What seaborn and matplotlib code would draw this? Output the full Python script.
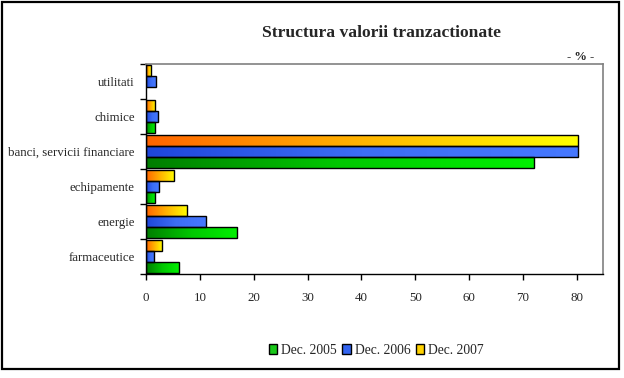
import numpy as np
import pandas as pd
import matplotlib
matplotlib.use("Agg")
import matplotlib.pyplot as plt
from matplotlib.patches import Rectangle
from matplotlib.colors import LinearSegmentedColormap
import seaborn as sns

categories = ["utilitati", "chimice", "banci, servicii financiare",
              "echipamente", "energie", "farmaceutice"]
series = ["Dec. 2005", "Dec. 2006", "Dec. 2007"]
dec2005 = [0.0, 1.7, 72.0, 1.6, 16.9, 6.1]
dec2006 = [1.8, 2.3, 80.2, 2.5, 11.1, 1.4]
dec2007 = [0.9, 1.7, 80.2, 5.2, 7.7, 3.0]
x_ticks = [0, 10, 20, 30, 40, 50, 60, 70, 80]

df = pd.DataFrame({
    "categorie": categories * 3,
    "serie": [series[0]] * 6 + [series[1]] * 6 + [series[2]] * 6,
    "valoare": dec2005 + dec2006 + dec2007,
})

sns.set_style("white")
plt.rcParams["font.family"] = ["Liberation Serif", "DejaVu Serif"]

fig = plt.figure(figsize=(6.24, 3.78), dpi=100)
ax = fig.add_axes([0.234, 0.275, 0.732, 0.556])

hue_order = [series[2], series[1], series[0]]  # top-to-bottom within group
solid = {series[0]: "#19c819", series[1]: "#3264f0", series[2]: "#ffd200"}
sns.barplot(data=df, y="categorie", x="valoare", hue="serie", order=categories,
            hue_order=hue_order, palette=solid, orient="h", width=0.93,
            dodge=True, ax=ax, legend=False, edgecolor="black", linewidth=1.0,
            saturation=1)

grads = {
    series[0]: LinearSegmentedColormap.from_list("g", ["#007d00", "#00c800", "#00f000"]),
    series[1]: LinearSegmentedColormap.from_list("b", ["#1e46dc", "#3c6ef5", "#4678ff"]),
    series[2]: LinearSegmentedColormap.from_list("y", ["#ff6400", "#ffb400", "#ffff00"]),
}
grad_img = np.linspace(0, 1, 256).reshape(1, -1)
for name, cont in zip(hue_order, ax.containers):
    for bar in cont:
        x0, y0 = bar.get_x(), bar.get_y()
        w, h = bar.get_width(), bar.get_height()
        bar.set_facecolor("none")
        bar.set_zorder(3)
        if w <= 0:
            bar.set_edgecolor("none")
            continue
        im = ax.imshow(grad_img, cmap=grads[name], aspect="auto",
                       extent=[x0, x0 + w, y0 + h, y0], zorder=2,
                       interpolation="bilinear")
        im.set_clip_path(bar)

ax.set_xlim(0, 84.8)
ax.set_ylim(5.5, -0.5)
ax.set_xlabel("")
ax.set_ylabel("")
ax.set_xticks(x_ticks)
ax.set_xticklabels([str(t) for t in x_ticks], fontsize=9.3)
ax.set_yticks(range(len(categories)))
ax.set_yticklabels(categories, fontsize=9.3)
ax.set_yticks(np.arange(-0.5, len(categories), 1.0), minor=True)
ax.tick_params(axis="y", which="major", left=True, length=0, pad=8)
ax.tick_params(axis="y", which="minor", left=True, length=4, width=1,
               color="black", direction="out")
ax.tick_params(axis="x", which="major", bottom=True, length=4, width=1,
               color="black", direction="out", pad=9)
ax.grid(False)
for s in ["left", "bottom"]:
    ax.spines[s].set_color("black")
    ax.spines[s].set_linewidth(1.0)
for s in ["top", "right"]:
    ax.spines[s].set_color("#808080")
    ax.spines[s].set_linewidth(1.2)

fig.text(0.612, 0.912, "Structura valorii tranzactionate", ha="center", va="center",
         fontsize=12.6, fontweight="bold")
fig.text(0.93, 0.848, "- % -", ha="center", va="center", fontsize=9, fontweight="bold")

handles = [Rectangle((0, 0), 1, 1, facecolor=solid[s], edgecolor="black", linewidth=1)
           for s in series]
fig.legend(handles, series, loc="center", bbox_to_anchor=(0.603, 0.074), ncol=3,
           frameon=False, fontsize=9.8, handlelength=0.6, handleheight=0.8,
           handletextpad=0.3, columnspacing=0.4, borderpad=0)

fig.patches.append(Rectangle((0.003, 0.024), 0.989, 0.97, transform=fig.transFigure,
                             fill=False, edgecolor="black", linewidth=1.6))

fig.savefig("out.png", dpi=100)
